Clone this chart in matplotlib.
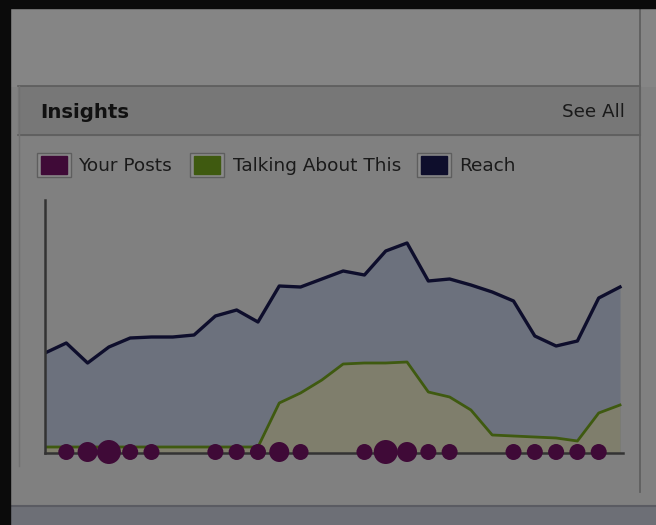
import matplotlib
matplotlib.use("Agg")
import matplotlib.pyplot as plt
from matplotlib.patches import Rectangle
import numpy as np

# ---- data ----
days = list(range(28))
reach = [100, 110, 90, 106, 115, 116, 116, 118, 137, 143, 131, 167, 166, 174,
         182, 178, 202, 210, 172, 174, 168, 161, 152, 117, 107, 112, 155, 166]
talking = [6, 6, 6, 6, 6, 6, 6, 6, 6, 6, 6, 50, 60, 73,
           89, 90, 90, 91, 61, 56, 43, 18, 17, 16, 15, 12, 40, 48]
posts = [0, 1, 2, 3, 1, 1, 0, 0, 1, 1, 1, 2, 1, 0,
         0, 1, 3, 2, 1, 1, 0, 0, 1, 1, 1, 1, 1, 0]
legend_labels = ["Your Posts", "Talking About This", "Reach"]
title = "Insights"
link = "See All"

# ---- colours ----
c_bg = "#808080"
c_top = "#858585"
c_head = "#777777"
c_line = "#5c5c5c"
c_posts = "#3f0a37"
c_talk = "#3f5a10"
c_reach = "#0e0e2c"
c_reach_fill = "#6c717d"
c_talk_fill = "#7f7e6c"
c_axis = "#333333"

W, H = 656, 525
fig = plt.figure(figsize=(W / 100, H / 100), dpi=100)
fig.patch.set_facecolor(c_bg)

bg = fig.add_axes([0, 0, 1, 1])
bg.set_xlim(0, W)
bg.set_ylim(H, 0)
bg.axis("off")

# chrome
bg.add_patch(Rectangle((0, 0), W, 8, color="#0b0b0b", zorder=5))
bg.add_patch(Rectangle((0, 0), 10, H, color="#0b0b0b", zorder=5))
bg.add_patch(Rectangle((10, 8), W, 78, color=c_top, zorder=1))
bg.add_patch(Rectangle((18, 86), 622, 49, color=c_head, zorder=1))
bg.plot([18, 640], [86, 86], color=c_line, lw=1.2, zorder=2)
bg.plot([18, 640], [135, 135], color=c_line, lw=1.2, zorder=2)
bg.plot([640, 640], [8, 492], color="#5f5f5f", lw=1.3, zorder=2)
bg.plot([19, 19], [86, 466], color="#707070", lw=1.0, zorder=2)
bg.add_patch(Rectangle((10, 506), W, 19, color="#6d6f76", zorder=1))
bg.plot([10, W], [506, 506], color="#5a5b62", lw=1.5, zorder=2)

bg.text(40, 112, title, fontsize=14.2, fontweight="bold", color="#111111",
        ha="left", va="center", family="DejaVu Sans", zorder=3)
bg.text(625, 112, link, fontsize=13.2, color="#1a1a1a",
        ha="right", va="center", family="DejaVu Sans", zorder=3)

# legend
sq_x = [37, 190, 417]
txt_x = [78, 233, 459]
cols = [c_posts, c_talk, c_reach]
for sx, tx, col, lab in zip(sq_x, txt_x, cols, legend_labels):
    bg.add_patch(Rectangle((sx, 153), 34, 24, facecolor="#8a8a8a",
                           edgecolor="#5e5e5e", lw=1, zorder=3))
    bg.add_patch(Rectangle((sx + 4, 156), 26, 18, color=col, zorder=4))
    bg.text(tx, 166, lab, fontsize=13.3, color="#1a1a1a", ha="left",
            va="center", family="DejaVu Sans", zorder=3)

# ---- chart ----
x0, x1 = 45, 623
y0, y1 = 200, 453
ax = fig.add_axes([x0 / W, 1 - y1 / H, (x1 - x0) / W, (y1 - y0) / H])
ax.set_facecolor("none")
step = (620 - 45) / 27
ax.set_xlim(0, 27 + (x1 - 620) / step)
ax.set_ylim(0, y1 - y0)

ax.fill_between(days, 0, reach, color=c_reach_fill, lw=0, zorder=1)
ax.fill_between(days, 0, talking, color=c_talk_fill, lw=0, zorder=2)
ax.plot(days, reach, color=c_reach, lw=2.4, solid_joinstyle="round", zorder=3)
ax.plot(days, talking, color=c_talk, lw=2.0, solid_joinstyle="round", zorder=3)

px = [d for d, p in zip(days, posts) if p > 0]
pr = [6 + 2 * p for p, in zip([q for q in posts if q > 0])]
sizes = [(2 * r * 72 / 100) ** 2 for r in pr]
ax.scatter(px, [1] * len(px), s=sizes, color=c_posts, edgecolors="none",
           zorder=5, clip_on=False)

for s in ["top", "right"]:
    ax.spines[s].set_visible(False)
for s in ["left", "bottom"]:
    ax.spines[s].set_color(c_axis)
    ax.spines[s].set_linewidth(1.8)
    ax.spines[s].set_zorder(4)
ax.set_xticks([])
ax.set_yticks([])

fig.savefig("out.png", dpi=100, facecolor=fig.get_facecolor())
